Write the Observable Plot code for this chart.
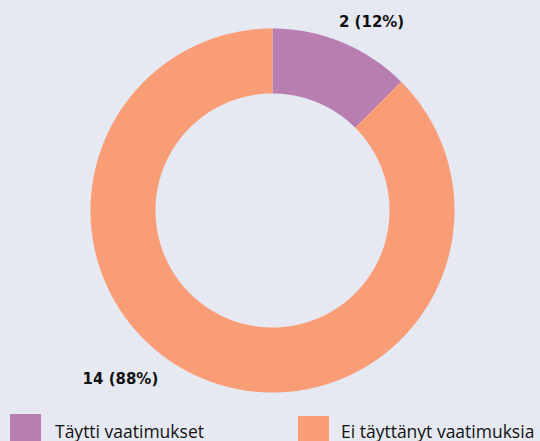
<!DOCTYPE html>
<html>
<head>
<meta charset="utf-8">
<script src="https://cdn.jsdelivr.net/npm/d3@7"></script>
<script src="https://cdn.jsdelivr.net/npm/@observablehq/plot@0.6"></script>
<style>
  html, body { margin: 0; padding: 0; background: #e6e9f1; overflow: hidden; }
  #wrap { position: relative; width: 540px; height: 441px; }
  #legend { position: absolute; left: 0; top: 0; width: 540px; height: 441px; pointer-events: none; }
  .item { position: absolute; font-family: "Open Sans", sans-serif; font-size: 17.5px; line-height: normal; color: #111; white-space: nowrap; }
  .sw { width: 31px; height: 31px; }
  .lbl { position: absolute; }
</style>
</head>
<body>
<div id="wrap"><div id="chart"></div><div id="legend"></div></div>
<script>
const categories = ["Täytti vaatimukset", "Ei täyttänyt vaatimuksia"];
const values = [2, 14];
const colors = ["#b87db1", "#f99d77"];

const total = d3.sum(values);
const pie = d3.pie().sort(null)(values);
const innerRatio = 117 / 182;

// round half to even (12.5 -> 12, 87.5 -> 88)
function roundHalfEven(v) {
  const f = Math.floor(v), d = v - f;
  if (Math.abs(d - 0.5) < 1e-9) return f % 2 === 0 ? f : f + 1;
  return Math.round(v);
}

const arcPoints = [];
pie.forEach((p, i) => {
  const key = categories[i];
  const n = Math.max(4, Math.ceil((p.endAngle - p.startAngle) / 0.005));
  for (let k = 0; k <= n; k++) {
    const a = p.startAngle + (p.endAngle - p.startAngle) * k / n;
    arcPoints.push({key, x: Math.sin(a), y: Math.cos(a)});
  }
  for (let k = n; k >= 0; k--) {
    const a = p.startAngle + (p.endAngle - p.startAngle) * k / n;
    arcPoints.push({key, x: Math.sin(a) * innerRatio, y: Math.cos(a) * innerRatio});
  }
});

const labels = pie.map((p, i) => {
  const a = (p.startAngle + p.endAngle) / 2;
  return {
    key: categories[i],
    x: Math.sin(a) * 1.15,
    y: Math.cos(a) * 1.15,
    text: `${values[i]} (${roundHalfEven(values[i] / total * 100)}%)`
  };
});

const chart = Plot.plot({
  width: 540,
  height: 405,
  margin: 0,
  style: {background: "transparent", overflow: "visible"},
  x: {domain: [-1, 1], range: [90, 454], axis: null},
  y: {domain: [-1, 1], range: [392, 28], axis: null},
  color: {domain: categories, range: colors},
  marks: [
    Plot.line(arcPoints, {x: "x", y: "y", z: "key", fill: "key", stroke: null, curve: "linear-closed"}),
    Plot.text(labels.slice(0, 1), {x: "x", y: "y", text: "text", dx: 19, dy: 5, fontSize: 15, fontWeight: "bold", fill: "#111", fontFamily: "DejaVu Sans"}),
    Plot.text(labels.slice(1), {x: "x", y: "y", text: "text", dx: -72, dy: -25, fontSize: 15, fontWeight: "bold", fill: "#111", fontFamily: "DejaVu Sans"})
  ]
});
document.getElementById("chart").appendChild(chart);

const legend = document.getElementById("legend");
const legendX = [10, 298];
const legendY = [414, 416];
categories.forEach((c, i) => {
  const it = document.createElement("div");
  it.className = "item";
  it.style.left = legendX[i] + "px";
  it.style.top = legendY[i] + "px";
  it.innerHTML = `<div class="sw" style="background:${colors[i]}"></div><div class="lbl" style="left:${i === 0 ? 45 : 43}px; top:${i === 0 ? 5 : 3}px">${c}</div>`;
  legend.appendChild(it);
});
</script>
</body>
</html>
